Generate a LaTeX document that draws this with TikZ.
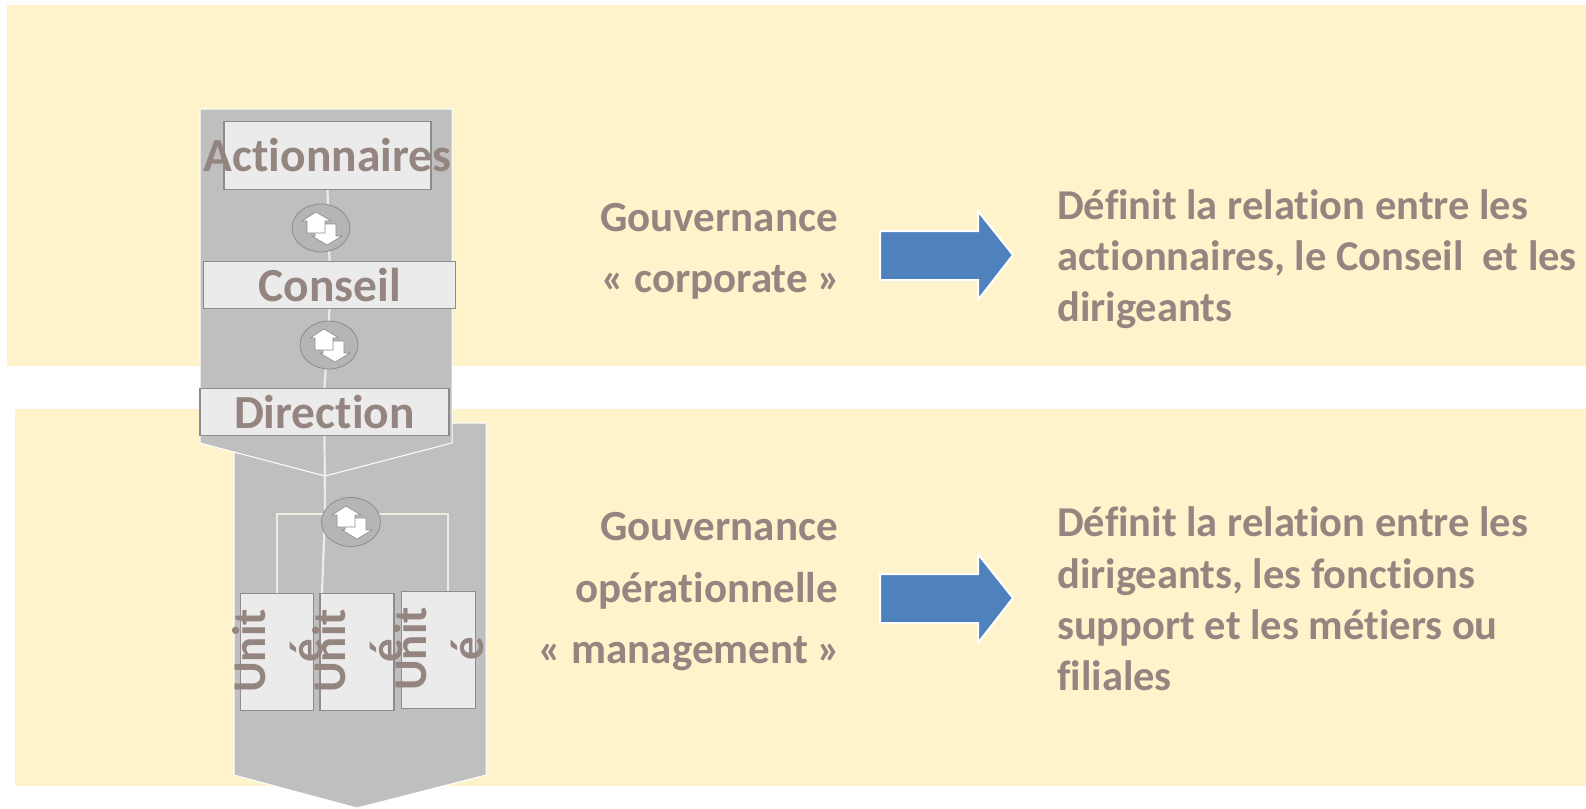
\documentclass[tikz,border=0pt]{standalone}
\usepackage{fontspec}
\setmainfont{Carlito}[Ligatures=NoCommon]
\definecolor{bandcol}{HTML}{FFF3CC}
\definecolor{panelcol}{HTML}{BFBFBF}
\definecolor{boxcol}{HTML}{EBEBEB}
\definecolor{edgecol}{HTML}{8C8C8C}
\definecolor{linkcol}{HTML}{EEECE1}
\definecolor{txtcol}{HTML}{948580}
\definecolor{arrowcol}{HTML}{4F81BD}
\tikzset{
  panel/.style={fill=panelcol, draw=white, line width=1pt},
  box/.style={rectangle, fill=boxcol, draw=edgecol, line width=1.2pt, inner sep=0pt, text=txtcol, font=\fontsize{47.5}{55}\selectfont\bfseries},
  link/.style={draw=linkcol, line width=2.2pt},
  swapnode/.style={ellipse, fill=black!29, draw=edgecol, line width=.8pt, inner sep=0pt},
  swaparrow/.style={fill=white, draw=edgecol, line width=.6pt, line join=miter},
  bigarrow/.style={fill=arrowcol, draw=white, line width=2pt, line join=miter},
  lefttext/.style={anchor=west, align=left, inner sep=0pt, text=txtcol, font=\fontsize{42.5}{51.3}\selectfont\bfseries},
  righttext/.style={anchor=east, align=right, inner sep=0pt, text=txtcol, font=\fontsize{43}{61.5}\selectfont\bfseries},
  unitlabel/.style={rotate=90, align=center, inner sep=0pt, text=txtcol, font=\fontsize{47}{57}\selectfont\bfseries},
  swapicon/.pic={
    \draw[swaparrow] (-6,-4) -- (15,-4) -- (15,8) -- (21,8) -- (6,17) -- (-9,8) -- (-6,8) -- cycle;
    \draw[swaparrow] (-5,-16) -- (10,-7) -- (4,-7) -- (4,5) -- (-14,5) -- (-14,-7) -- (-19,-7) -- cycle;
  }
}
\usetikzlibrary{shapes.geometric}
\begin{document}
\begin{tikzpicture}[x=1pt, y=-1pt]
\useasboundingbox (0,0) rectangle (1586,808);
% bands
\fill[bandcol] (7,5) rectangle (1586,366);
\fill[bandcol] (15,409) rectangle (1586,786);
% panels
\draw[panel] (234,423) -- (486,423) -- (486,775) -- (357,808) -- (234,775) -- cycle;
\draw[panel] (200,109) -- (452,109) -- (452,443) -- (325,476) -- (200,443) -- cycle;
% boxes
\node[box, minimum width=207pt, minimum height=68pt] (act) at (327.5,155.5){\makebox[0pt]{\raisebox{-1pt}{Actionnaires}}};
\node[box, minimum width=252pt, minimum height=47pt] (con) at (329.5,285){Conseil};
\node[box, minimum width=249pt, minimum height=47pt] (dir) at (324.5,412){Direction};
\node[box, minimum width=73pt, minimum height=117pt] (unita) at (277,652){};
\node[box, minimum width=74pt, minimum height=117pt] (unitb) at (357,652){};
\node[box, minimum width=74pt, minimum height=117pt] (unitc) at (438.5,650){};
\node[unitlabel] (labela) at (277.5,651){Unit\\é};
\node[unitlabel] (labelb) at (357.5,651){Unit\\é};
\node[unitlabel] (labelc) at (439,649){Unit\\é};
% connectors
\coordinate (branch) at (325,514);
\coordinate (branchl) at (277,514);
\coordinate (branchr) at (448,514);
\coordinate (unitbtop) at (322,593);
\coordinate (unitctop) at (448,591);
\draw[link](act.south) -- (con.north);
\draw[link](con.south) -- (dir.north);
\draw[link](dir.south) -- (branch);
\draw[link](branch) -- (unitbtop);
\draw[link](unita.north) -- (branchl) -- (branchr) -- (unitctop);
% exchange icons
\node[swapnode, minimum width=58pt, minimum height=48pt] (swapa) at (321,228){};
\node[swapnode, minimum width=58pt, minimum height=48pt] (swapb) at (329,345){};
\node[swapnode, minimum width=59pt, minimum height=49pt] (swapc) at (351,522){};
\pic at (swapa) {swapicon};
\pic at (swapb) {swapicon};
\pic at (swapc) {swapicon};
% texts
\node[righttext] (govc) at (838,251.5){Gouvernance\\« corporate »\kern-3pt};
\node[righttext] (govm) at (838,592){Gouvernance\\opérationnelle\\« management »\kern-3pt};
\node[lefttext] (defc) at (1057,259){Définit la relation entre les\\actionnaires, le Conseil~ et les\\dirigeants};
\node[lefttext] (defm) at (1057,599){Définit la relation entre les\\dirigeants, les fonctions\\support et les métiers ou\\filiales};
% arrows
\draw[bigarrow] (880,231) -- (978,231) -- (978,211) -- (1013,255) -- (978,300) -- (978,280) -- (880,280) -- cycle;
\draw[bigarrow] (880,574) -- (978,574) -- (978,554) -- (1013,598) -- (978,643) -- (978,623) -- (880,623) -- cycle;
\end{tikzpicture}
\end{document}
